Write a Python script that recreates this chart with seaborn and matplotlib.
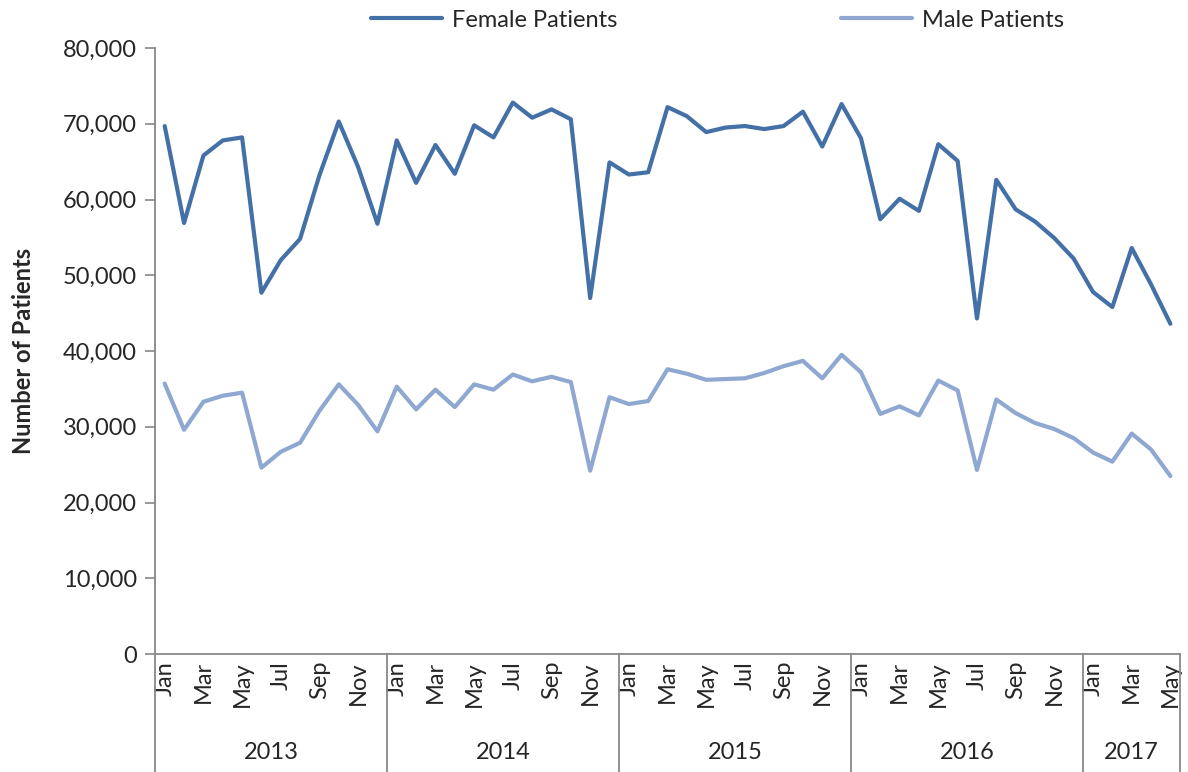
import numpy as np
import pandas as pd
import matplotlib
matplotlib.use("Agg")
import matplotlib.pyplot as plt
import matplotlib.transforms as mtransforms
import seaborn as sns

# monthly data, Jan 2013 - May 2017
years = ["2013", "2014", "2015", "2016", "2017"]
months_per_year = [12, 12, 12, 12, 5]
month_names = ["Jan", "Feb", "Mar", "Apr", "May", "Jun",
               "Jul", "Aug", "Sep", "Oct", "Nov", "Dec"]

female = [69700, 56900, 65800, 67800, 68200, 47700, 52000, 54800, 63200, 70300, 64300, 56800,
          67800, 62200, 67200, 63400, 69800, 68200, 72800, 70800, 71900, 70600, 47000, 64900,
          63300, 63600, 72200, 71000, 68900, 69500, 69700, 69300, 69700, 71600, 67000, 72600,
          68100, 57400, 60100, 58500, 67300, 65100, 44300, 62600, 58700, 57100, 54900, 52200,
          47800, 45800, 53600, 48800, 43600]
male = [35700, 29600, 33300, 34100, 34500, 24600, 26700, 27900, 32100, 35600, 32900, 29400,
        35300, 32300, 34900, 32600, 35600, 34900, 36900, 36000, 36600, 35900, 24200, 33900,
        33000, 33400, 37600, 37000, 36200, 36300, 36400, 37100, 38000, 38700, 36400, 39500,
        37200, 31700, 32700, 31500, 36100, 34800, 24300, 33600, 31800, 30500, 29700, 28500,
        26600, 25400, 29100, 27000, 23500]

month_labels = [m for n in months_per_year for m in month_names[:n]]
idx = np.arange(len(female))

df = pd.DataFrame({
    "idx": np.concatenate([idx, idx]),
    "patients": female + male,
    "series": ["Female Patients"] * len(female) + ["Male Patients"] * len(male),
})

sns.set_style("white")
plt.rcParams["font.family"] = ["Lato", "DejaVu Sans"]
fs = 17

fig = plt.figure(figsize=(11.88, 7.72), dpi=100)
ax = fig.add_axes([0.1305, 0.1528, 0.8628, 0.785])

palette = {"Female Patients": "#4470A8", "Male Patients": "#8EA8D1"}
sns.lineplot(data=df, x="idx", y="patients", hue="series", palette=palette,
             linewidth=3.0, ax=ax, legend=False)

ax.set_xlim(-0.5, len(female) - 0.5)
ax.set_ylim(0, 80000)
ax.set_yticks(np.arange(0, 80001, 10000))
ax.set_yticklabels([f"{v:,}" for v in range(0, 80001, 10000)], fontsize=fs)
ax.tick_params(axis="y", left=True, length=7, width=1.2, color="#888888", pad=6)

# month ticks: every other month labelled
ax.set_xticks(idx[::2])
ax.set_xticklabels(month_labels[::2], rotation=90, fontsize=fs)
ax.tick_params(axis="x", length=0, pad=5)

for s in ["top", "right"]:
    ax.spines[s].set_visible(False)
for s in ["left", "bottom"]:
    ax.spines[s].set_color("#888888")
    ax.spines[s].set_linewidth(1.3)

ax.set_xlabel("")
ax.set_ylabel("Number of Patients", fontsize=fs, fontweight="bold", labelpad=20)

# year group separators and labels
trans = mtransforms.blended_transform_factory(ax.transData, ax.transAxes)
bounds = np.concatenate([[0], np.cumsum(months_per_year)]) - 0.5
for b in bounds:
    ax.plot([b, b], [0, -0.2], transform=trans, color="#888888", lw=1.3, clip_on=False)
for i, yr in enumerate(years):
    ax.text((bounds[i] + bounds[i + 1]) / 2, -0.162, yr, transform=trans,
            ha="center", va="center", fontsize=fs)

handles = [plt.Line2D([], [], color=c, lw=3.0) for c in palette.values()]
fig.legend(handles, list(palette.keys()), loc="center", bbox_to_anchor=(0.604, 0.974),
           ncol=2, frameon=False, fontsize=fs, handlelength=3.0, columnspacing=9.5,
           handletextpad=0.4)

fig.savefig("out.png", dpi=100)
